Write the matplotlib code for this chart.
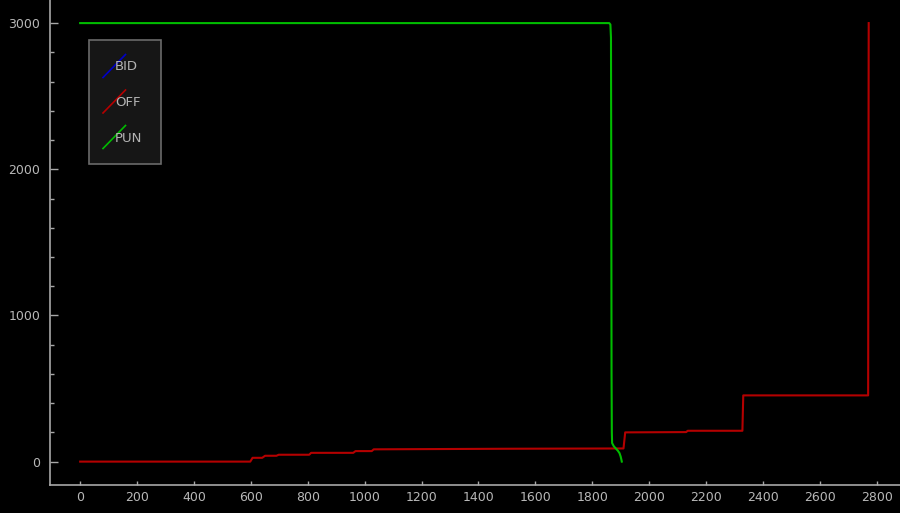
import numpy as np
import matplotlib
matplotlib.use("Agg")
import matplotlib.pyplot as plt
from matplotlib.ticker import MultipleLocator, FixedLocator
from matplotlib.patches import Rectangle
from matplotlib.lines import Line2D

# series
bid_x = []
bid_y = []

off_x = [0, 598, 606, 640, 650, 690, 698, 805, 812, 960, 968, 1025, 1032,
         1500, 1910, 1916, 2130, 2136, 2328, 2331, 2770, 2772]
off_y = [0, 0, 26, 26, 40, 40, 47, 47, 60, 60, 72, 72, 84,
         88, 90, 200, 202, 211, 211, 453, 453, 3000]

pun_x = [0, 1860, 1864, 1866, 1867, 1868, 1869, 1870, 1876, 1882, 1890,
         1896, 1900, 1903, 1904]
pun_y = [3000, 3000, 2990, 2900, 2000, 600, 200, 127, 105, 92, 75,
         58, 35, 10, 0]

names = ["BID", "OFF", "PUN"]
colors = ["#0000c8", "#b40000", "#00bc00"]

W, H = 900, 513
fig = plt.figure(figsize=(W / 100, H / 100), dpi=100, facecolor="black")
ax = fig.add_axes([50 / W, (H - 485) / H, (W - 50) / W, 485 / H])
ax.set_facecolor("black")

for xs, ys, c in zip([bid_x, off_x, pun_x], [bid_y, off_y, pun_y], colors):
    ax.plot(xs, ys, color=c, lw=1.5, solid_joinstyle="round")

ax.set_xlim(-106, 2882)
ax.set_ylim(-160, 3158)

grey = "#a8a8a8"
for s in ["top", "right"]:
    ax.spines[s].set_visible(False)
for s in ["left", "bottom"]:
    ax.spines[s].set_color(grey)
    ax.spines[s].set_linewidth(1.2)

ax.xaxis.set_major_locator(MultipleLocator(200))
ax.xaxis.set_minor_locator(FixedLocator([0, 2000]))
ax.yaxis.set_major_locator(MultipleLocator(1000))
ax.yaxis.set_minor_locator(MultipleLocator(200))

ax.tick_params(axis="x", which="major", direction="in", length=3, width=1,
               color=grey, labelcolor="#b8b8b8", labelsize=9, pad=4)
ax.tick_params(axis="x", which="minor", direction="in", length=6, width=1,
               color=grey)
ax.tick_params(axis="y", which="major", direction="in", length=6, width=1,
               color=grey, labelcolor="#b8b8b8", labelsize=9, pad=7)
ax.tick_params(axis="y", which="minor", direction="in", length=3, width=1,
               color=grey)


# legend box drawn by hand, in figure pixels
def px(x, y):
    return x / W, 1 - y / H


x0, y0 = px(89, 164)
x1, y1 = px(161, 40)
fig.add_artist(Rectangle((x0, y0), x1 - x0, y1 - y0, transform=fig.transFigure,
                         facecolor="#161616", edgecolor="#6a6a6a", lw=1.2))
for i, (name, c) in enumerate(zip(names, colors)):
    yc = 67 + i * 35.5
    a = px(103, yc + 10.5)
    b = px(125.5, yc - 12.5)
    fig.add_artist(Line2D([a[0], b[0]], [a[1], b[1]], transform=fig.transFigure,
                          color=c, lw=1.2))
    tx, ty = px(115, yc)
    fig.text(tx, ty, name, color="#b4b4b4", fontsize=9.5, va="center", ha="left")

fig.savefig("out.png", dpi=100, facecolor="black")
